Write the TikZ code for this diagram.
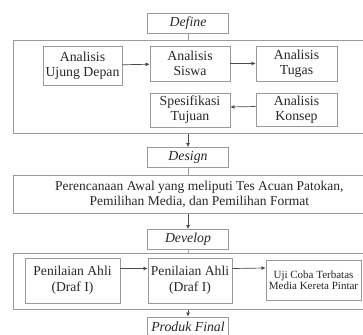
\documentclass[tikz,border=0pt]{standalone}
\usepackage{fontspec}
\setmainfont{Liberation Serif}
\usetikzlibrary{arrows.meta, positioning, calc}

\begin{document}
\begin{tikzpicture}[
    x=1pt, y=-1pt,
    every node/.style={font=\fontsize{13.8}{15}\selectfont},
]

% ---------------------------------------------------------------- colours
\definecolor{edge}{HTML}{9A9A9A}     % box outlines
\definecolor{txt}{HTML}{262626}      % all words
\definecolor{flowc}{HTML}{4A4A4A}    % arrows between steps

% ================================================================
% Geometry in pixels of the 363 x 334 frame, y going down.
%
%   stage labels (Define, Design, Develop, Produk Final) centred x = 188,
%   width 81, height about 20
%   three wide frames from x = 13, running off the right edge
%   frame rows: 40..133, 175..213, 253..309
% ================================================================

\tikzset{
    stagebox/.style={
        draw=edge, line width=0.8pt, text=txt,
        minimum width=81pt, minimum height=20pt,
        inner sep=0pt, font=\fontsize{13.8}{15}\selectfont\itshape,
    },
    frame/.style={
        draw=edge, line width=0.8pt, text=txt,
        anchor=north west, inner sep=0pt, align=center,
        minimum width=372pt,
    },
    stepbox/.style={
        draw=edge, line width=0.8pt, text=txt,
        inner sep=0pt, align=center,
    },
    flow/.style={
        draw=flowc, line width=0.7pt,
        -{Latex[length=4pt, width=4pt]},
    },
    link/.style={draw=edge, line width=0.8pt},
}

\clip (0,0) rectangle (363,334);
\useasboundingbox (0,0) rectangle (363,334);

% ---------------------------------------------------------------- define
\node[stagebox] (define) at (188,23) {Define};
\node[frame, minimum height=93pt] (fr1) at (13,40) {};

\node[stepbox, minimum width=79pt, minimum height=39pt] (ujung)
    at (82.5,65.5) {Analisis\\Ujung Depan};
\node[stepbox, minimum width=80pt, minimum height=35pt] (siswa)
    at (190,63.5) {Analisis\\Siswa};
\node[stepbox, minimum width=81pt, minimum height=35pt] (tugas)
    at (296.5,63.5) {Analisis\\Tugas};
\node[stepbox, minimum width=80pt, minimum height=34pt] (tujuan)
    at (190,110) {Spesifikasi\\Tujuan};
\node[stepbox, minimum width=81pt, minimum height=33pt] (konsep)
    at (296.5,109.5) {Analisis\\Konsep};

\draw[flow] (ujung) -- (siswa);
\draw[flow] (siswa) -- (tugas);
\draw[flow] ([yshift=3pt]konsep.west) -- ([yshift=3pt]tujuan.east);

% ---------------------------------------------------------------- design
\node[stagebox] (design) at (188,157.5) {Design};
\node[frame, minimum height=38pt, font=\fontsize{13.5}{15}\selectfont]
    (fr2) at (13,175)
    {Perencanaan Awal yang meliputi Tes Acuan Patokan,\\
     Pemilihan Media, dan Pemilihan Format};

% ---------------------------------------------------------------- develop
\node[stagebox] (develop) at (188,239.5) {Develop};
\node[frame, minimum height=56pt] (fr3) at (13,253) {};

\node[stepbox, minimum width=95pt, minimum height=45pt,
      font=\fontsize{13.6}{16}\selectfont] (ahli1)
    at (72.5,280.5) {Penilaian Ahli\\(Draf I)};
\node[stepbox, minimum width=84pt, minimum height=45pt,
      font=\fontsize{13.6}{16}\selectfont] (ahli2)
    at (190,280.5) {Penilaian Ahli\\(Draf I)};
\node[stepbox, minimum width=95pt, minimum height=40pt,
      font=\fontsize{11}{11.5}\selectfont] (ujicoba)
    at (313.5,280) {Uji Coba Terbatas\\Media Kereta Pintar};

\draw[flow] ([yshift=12pt]ahli1.east) -- ([yshift=12pt]ahli2.west);
\draw[flow] ([yshift=12pt]ahli2.east) -- ([yshift=12pt]ujicoba.west);

% ---------------------------------------------------------------- final
\node[stagebox] (final) at (188,327) {Produk Final};

% ---------------------------------------------------------------- between stages
\draw[link] (define.south) -- (define.south |- fr1.north);
\draw[flow] (design.north |- fr1.south) -- (design.north);
\draw[link] (design.south) -- (design.south |- fr2.north);
\draw[flow] (develop.north |- fr2.south) -- (develop.north);
\draw[link] (develop.south) -- (develop.south |- fr3.north);
\draw[flow] (final.north |- fr3.south) -- (final.north);

\end{tikzpicture}
\end{document}
